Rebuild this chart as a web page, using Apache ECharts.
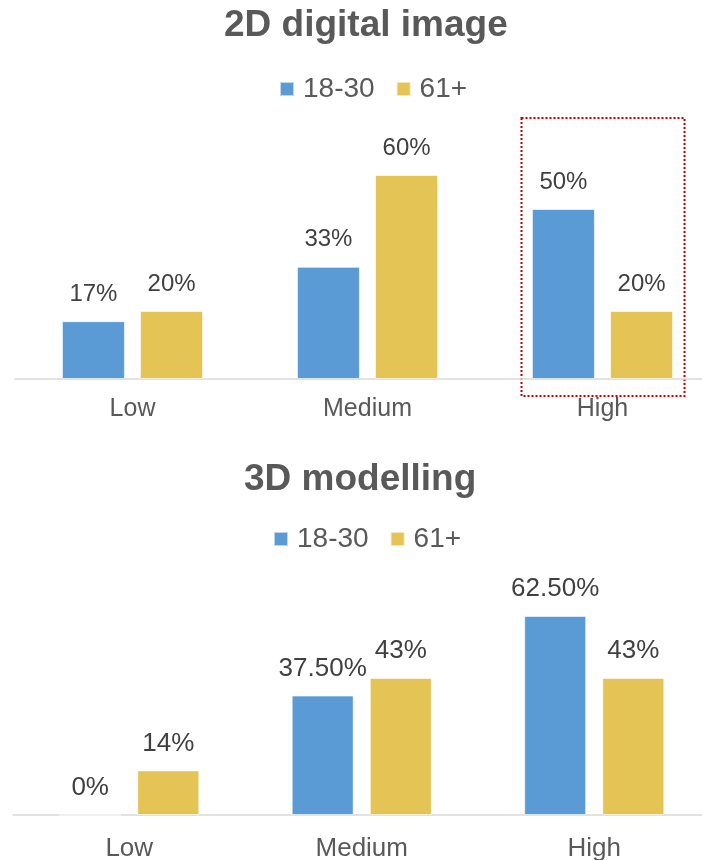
<!DOCTYPE html>
<html>
<head>
<meta charset="utf-8">
<script src="https://cdn.jsdelivr.net/npm/echarts@6/dist/echarts.min.js"></script>
<style>
  html, body { margin: 0; padding: 0; background: #ffffff; }
  #chart { width: 702px; height: 860px; }
</style>
</head>
<body>
<div id="chart"></div>
<script>
// Categories shared by both panels
const categories = ['Low', 'Medium', 'High'];
const seriesNames = ['18-30', '61+'];

// 2D digital image (percent)
const digital2dYoung = [17, 33, 50];
const digital2dOld = [20, 60, 20];

// 3D modelling (percent)
const modelling3dYoung = [0, 37.5, 62.5];
const modelling3dOld = [14, 43, 43];

const BLUE = '#5B9BD5';
const GOLD = '#E3C455';
const TITLE_COLOR = '#595959';
const LABEL_COLOR = '#404040';

const chart = echarts.init(document.getElementById('chart'), null, { renderer: 'canvas' });

const sansFont = '"Liberation Sans", Arial, sans-serif';

function pct(v) { return v + '%'; }
function pct2(v) { return v === 0 ? '0%' : v.toFixed(2) + '%'; }

function barSeries(name, data, idx, color, fontSize, fmt) {
  return {
    name: name,
    type: 'bar',
    xAxisIndex: idx,
    yAxisIndex: idx,
    data: data,
    barWidth: idx === 0 ? 63 : 62,
    barGap: idx === 0 ? '24%' : '26%',
    itemStyle: { color: color, borderColor: 'rgba(255,255,255,0.6)', borderWidth: 1 },
    label: {
      show: true,
      position: 'top',
      distance: idx === 0 ? 15 : 14,
      color: LABEL_COLOR,
      fontFamily: sansFont,
      fontSize: fontSize,
      formatter: function (p) { return fmt(p.value); }
    },
    emphasis: { disabled: true },
    animation: false
  };
}

const option = {
  backgroundColor: '#ffffff',
  animation: false,
  title: [
    {
      text: '2D digital image', left: 224, top: 7, padding: 0,
      textStyle: { fontFamily: sansFont, fontWeight: 'bold', fontSize: 37, color: TITLE_COLOR }
    },
    {
      text: '3D modelling', left: 244, top: 461, padding: 0,
      textStyle: { fontFamily: sansFont, fontWeight: 'bold', fontSize: 37, color: TITLE_COLOR }
    }
  ],
  legend: [
    {
      data: seriesNames, left: 279, top: 75, padding: 0,
      itemWidth: 14, itemHeight: 14, itemGap: 21, icon: 'rect',
      textStyle: { fontFamily: sansFont, fontSize: 28, color: TITLE_COLOR, padding: [0, 0, 0, 4] }
    },
    {
      data: seriesNames, left: 273, top: 525, padding: 0,
      itemWidth: 14, itemHeight: 14, itemGap: 21, icon: 'rect',
      textStyle: { fontFamily: sansFont, fontSize: 28, color: TITLE_COLOR, padding: [0, 0, 0, 4] }
    }
  ],
  grid: [
    { left: 15, width: 705, top: 141, height: 238, outerBoundsMode: 'none', containLabel: false },
    { left: 13, width: 697.5, top: 592, height: 223, outerBoundsMode: 'none', containLabel: false }
  ],
  xAxis: [0, 1].map(function (i) {
    return {
      type: 'category',
      gridIndex: i,
      data: categories,
      axisLine: { lineStyle: { color: '#D9D9D9', width: 1.5 } },
      axisTick: { show: false },
      axisLabel: {
        margin: i === 0 ? 18 : 21,
        color: TITLE_COLOR,
        fontFamily: sansFont,
        fontSize: i === 0 ? 25 : 26
      }
    };
  }),
  yAxis: [0, 1].map(function (i) {
    return { type: 'value', gridIndex: i, min: 0, max: 70, show: false, splitLine: { show: false } };
  }),
  series: [
    barSeries(seriesNames[0], digital2dYoung, 0, BLUE, 24, pct),
    barSeries(seriesNames[1], digital2dOld, 0, GOLD, 24, pct),
    barSeries(seriesNames[0], modelling3dYoung, 1, BLUE, 26, pct2),
    barSeries(seriesNames[1], modelling3dOld, 1, GOLD, 26, pct)
  ]
};

chart.setOption(option);

// Dotted highlight frame around the "High" group of the 2D panel
const highX = chart.convertToPixel({ xAxisIndex: 0 }, 'High');
const baseY = chart.convertToPixel({ yAxisIndex: 0 }, 0);
const topY = chart.convertToPixel({ yAxisIndex: 0 }, 70);
chart.setOption({
  graphic: [{
    type: 'rect',
    shape: { x: highX - 81, y: topY - 23, width: 163, height: baseY - topY + 40 },
    style: { fill: 'none', stroke: '#C00000', lineWidth: 2, lineDash: [2, 2] },
    silent: true
  }]
});
</script>
</body>
</html>
